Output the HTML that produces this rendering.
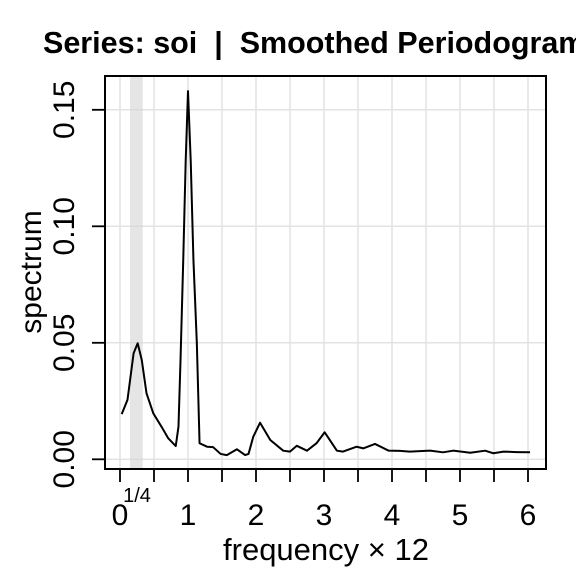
<!DOCTYPE html>
<html><head><meta charset="utf-8"><style>
html,body{margin:0;padding:0;background:#fff;width:576px;height:576px;overflow:hidden}
text{font-family:"Liberation Sans",sans-serif}
</style></head><body>
<svg id="chart" width="576" height="576" xmlns="http://www.w3.org/2000/svg">
<text x="43" y="53" font-size="30.5" font-weight="bold" style="white-space:pre" xml:space="preserve">Series: soi  |  Smoothed Periodogram</text>
<g id="grid"></g>
<rect x="130" y="76" width="12.7" height="393" fill="#d3d3d3" opacity="0.6"/>
<g id="marks"></g>
<rect x="105" y="76" width="441" height="393" fill="none" stroke="#000" stroke-width="2"/>
<g id="axes"></g>
<text x="137" y="502" font-size="20" text-anchor="middle">1/4</text>
<text x="326" y="560" font-size="31" text-anchor="middle">frequency × 12</text>
<text transform="translate(41,272) rotate(-90)" font-size="30" text-anchor="middle">spectrum</text>
</svg>
<script>
const freqs=[0.025,0.11,0.2,0.26,0.32,0.39,0.49,0.61,0.71,0.82,0.86,0.89,0.93,0.966,1.0,1.04,1.08,1.13,1.17,1.28,1.37,1.48,1.57,1.72,1.84,1.89,1.96,2.06,2.21,2.4,2.5,2.6,2.75,2.89,3.01,3.19,3.28,3.48,3.58,3.75,3.95,4.12,4.26,4.56,4.75,4.9,5.15,5.37,5.49,5.64,5.83,6.03];
const spec=[0.0194,0.0255,0.0455,0.0498,0.0426,0.0283,0.0197,0.014,0.009,0.0057,0.014,0.0426,0.0855,0.128,0.158,0.128,0.0855,0.0498,0.0069,0.0054,0.0052,0.0023,0.0018,0.0043,0.0018,0.0023,0.0097,0.0157,0.0083,0.0037,0.0033,0.0058,0.0037,0.0069,0.0116,0.0037,0.0033,0.0054,0.0047,0.0066,0.0037,0.0036,0.0033,0.0037,0.003,0.0037,0.0028,0.0037,0.0026,0.0033,0.0031,0.003];
const xTicks=[0,1,2,3,4,5,6];
const xMinor=[0,0.5,1,1.5,2,2.5,3,3.5,4,4.5,5,5.5,6];
const yTicks=[0,0.05,0.10,0.15];
const yLabels=["0.00","0.05","0.10","0.15"];
const X=f=>120+f*68, Y=v=>459.3-v*2330;
const NS="http://www.w3.org/2000/svg";
function mk(t,a,p){const e=document.createElementNS(NS,t);for(const k in a)e.setAttribute(k,a[k]);p.appendChild(e);return e;}
const grid=document.getElementById('grid'),axes=document.getElementById('axes'),marks=document.getElementById('marks');
xMinor.forEach(f=>{
 const g=mk('line',{x1:X(f),x2:X(f),y1:76,y2:469,stroke:'#e3e3e3','stroke-width':1.5},grid);
 
 
 const t=mk('line',{x1:X(f),x2:X(f),y1:469,y2:482,stroke:'#000','stroke-width':1.8},axes);
 
 
});
yTicks.forEach((v,i)=>{
 const g=mk('line',{x1:105,x2:546,y1:Y(v),y2:Y(v),stroke:'#e3e3e3','stroke-width':1.5},grid);
 
 
 const t=mk('line',{x1:92,x2:105,y1:Y(v),y2:Y(v),stroke:'#000','stroke-width':1.8},axes);
 
 
 const l=mk('text',{transform:`translate(74,${Y(v)}) rotate(-90)`,'font-size':30,'text-anchor':'middle'},axes);
 l.textContent=yLabels[i];
 
 
});
xTicks.forEach(f=>{
 const l=mk('text',{x:X(f),y:525,'font-size':30,'text-anchor':'middle'},axes);
 l.textContent=String(f);
 
 
});
const p=mk('polyline',{points:freqs.map((f,i)=>X(f)+','+Y(spec[i])).join(' '),fill:'none',stroke:'#000','stroke-width':2,'stroke-linejoin':'round'},marks);


</script>
</body></html>
